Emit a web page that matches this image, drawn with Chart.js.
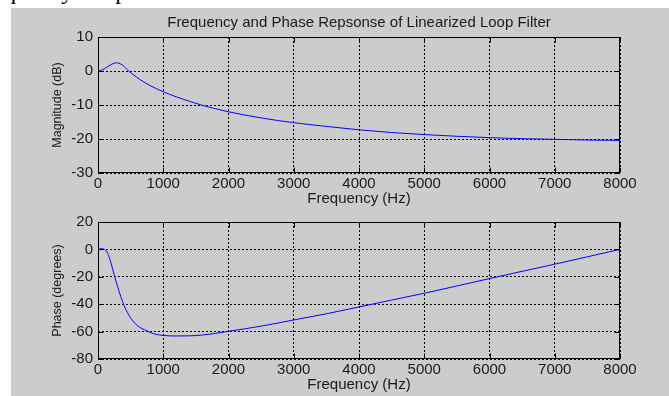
<!DOCTYPE html>
<html>
<head>
<meta charset="utf-8">
<script src="https://cdn.jsdelivr.net/npm/chart.js@4"></script>
<style>
  body { margin: 0; background: #fff; width: 669px; height: 396px; position: relative; overflow: hidden; }
  #doc { position: absolute; left: 0; top: 0; width: 669px; height: 8px; overflow: hidden; }
  #doc span { position: absolute; left: -28px; top: -21px; font: 24px/24px "Liberation Serif", serif; color: #000; white-space: nowrap; }
  #fig { position: absolute; left: 11px; top: 8px; width: 658px; height: 388px; background: #cccccc; }
  canvas { position: absolute; left: 0; }
</style>
</head>
<body>
<div id="doc"><span>Frequency Response</span></div>
<div id="fig"></div>
<canvas id="magChart" width="669" height="211" style="top:0"></canvas>
<canvas id="phaseChart" width="669" height="210" style="top:186px"></canvas>
<script>
const title = "Frequency and Phase Repsonse of Linearized Loop Filter";
const xLabel = "Frequency (Hz)";

// magnitude response (Hz, dB)
const magFreq = [0, 50, 100, 150, 200, 250, 280, 320, 370, 420, 470, 550, 650, 800, 1000,
    1200, 1400, 1600, 1800, 2000, 2500, 3000, 3500, 4000, 4500, 5000, 5500, 6000, 6500, 7000, 7500, 8000];
const magDb = [0, 0.2, 0.7, 1.3, 1.9, 2.3, 2.4, 2.3, 1.8, 1.0, 0.0, -1.2, -2.6, -4.3, -6.1,
    -7.6, -8.9, -10.1, -11.1, -12.0, -13.8, -15.2, -16.3, -17.3, -18.1, -18.7, -19.2, -19.6, -19.9, -20.1, -20.3, -20.4];

// phase response (Hz, degrees)
const phaseFreq = [0, 50, 100, 150, 200, 250, 300, 350, 400, 450, 500, 600, 750, 850, 1000,
    1200, 1400, 1600, 1800, 2000, 2500, 3000, 3500, 4000, 4500, 5000, 5500, 6000, 6500, 7000, 7500, 8000];
const phaseDeg = [0, 0.5, 0, -3, -10, -19, -27, -34.5, -41, -46, -50, -55.5, -59.5, -61.5, -62.8,
    -63.2, -63.1, -62.5, -61.3, -59.8, -56, -51.5, -47, -42, -37, -32, -26.7, -21.3, -16, -10.8, -5.4, 0];

const textColor = "#1a1a1a";
const fontFamily = "'Liberation Sans', Arial, sans-serif";
Chart.defaults.font.family = fontFamily;
Chart.defaults.font.size = 15;
Chart.defaults.color = textColor;

// MATLAB style box with inward ticks
const boxPlugin = {
    id: "box",
    afterDatasetsDraw(chart) {
        const {ctx, chartArea: a, scales} = chart;
        const l = Math.round(a.left) + 0.5, r = Math.round(a.right) - 0.5;
        const t = Math.round(a.top) + 0.5, b = Math.round(a.bottom) - 0.5;
        ctx.save();
        ctx.setLineDash([]);
        ctx.strokeStyle = "#000";
        ctx.lineWidth = 1;
        ctx.beginPath();
        scales.x.ticks.forEach(tk => {
            const px = Math.round(scales.x.getPixelForValue(tk.value)) + 0.5;
            ctx.moveTo(px, b); ctx.lineTo(px, b - 5);
            ctx.moveTo(px, t); ctx.lineTo(px, t + 5);
        });
        scales.y.ticks.forEach(tk => {
            const py = Math.round(scales.y.getPixelForValue(tk.value)) + 0.5;
            ctx.moveTo(l, py); ctx.lineTo(l + 5, py);
            ctx.moveTo(r, py); ctx.lineTo(r - 5, py);
        });
        ctx.stroke();
        ctx.strokeRect(l, t, r - l, b - t);
        ctx.restore();
    }
};

function makeChart(id, freqs, vals, yMin, yMax, yStep, yTitle, opts) {
    return new Chart(document.getElementById(id).getContext("2d"), {
        type: "line",
        data: {
            datasets: [{
                data: freqs.map((f, i) => ({x: f, y: vals[i]})),
                borderColor: "#0000ff",
                borderWidth: 1,
                pointRadius: 0,
                cubicInterpolationMode: "monotone",
                fill: false,
            }],
        },
        options: {
            responsive: false,
            animation: false,
            devicePixelRatio: 1,
            layout: {padding: {left: 0, right: 49, top: opts.padTop, bottom: 0}},
            plugins: {
                legend: {display: false},
                tooltip: {enabled: false},
                title: opts.title ? {
                    display: true,
                    text: opts.title,
                    fullSize: false,
                    color: textColor,
                    font: {size: 15, weight: "normal", lineHeight: 1.2},
                    padding: {top: 14, bottom: 5},
                } : {display: false},
            },
            scales: {
                x: {
                    type: "linear",
                    min: 0,
                    max: 8000,
                    ticks: {stepSize: 1000, padding: 2, color: textColor, maxRotation: 0,
                        callback: v => String(v)},
                    grid: {color: "#000", drawTicks: false, lineWidth: 1},
                    border: {display: false, dash: [2, 2]},
                    title: {display: true, text: xLabel, color: textColor,
                        font: {size: 15, lineHeight: 1.2}, padding: {top: 0, bottom: opts.xTitlePad}},
                    afterFit: s => { s.height = opts.xHeight; },
                },
                y: {
                    min: yMin,
                    max: yMax,
                    ticks: {stepSize: yStep, padding: 5, color: textColor},
                    grid: {color: "#000", drawTicks: false, lineWidth: 1},
                    border: {display: false, dash: [2, 2]},
                    title: {display: true, text: yTitle, color: textColor,
                        font: {size: 12.5, lineHeight: 1.2}, padding: {top: 50.5, bottom: 0}},
                    afterFit: s => { s.width = 98; },
                },
            },
        },
        plugins: [boxPlugin],
    });
}

makeChart("magChart", magFreq, magDb, -30, 10, 10, "Magnitude (dB)",
    {title: title, padTop: 0, xHeight: 38, xTitlePad: 3});
makeChart("phaseChart", phaseFreq, phaseDeg, -80, 20, 20, "Phase (degrees)",
    {title: null, padTop: 36, xHeight: 37, xTitlePad: 2});
</script>
</body>
</html>
